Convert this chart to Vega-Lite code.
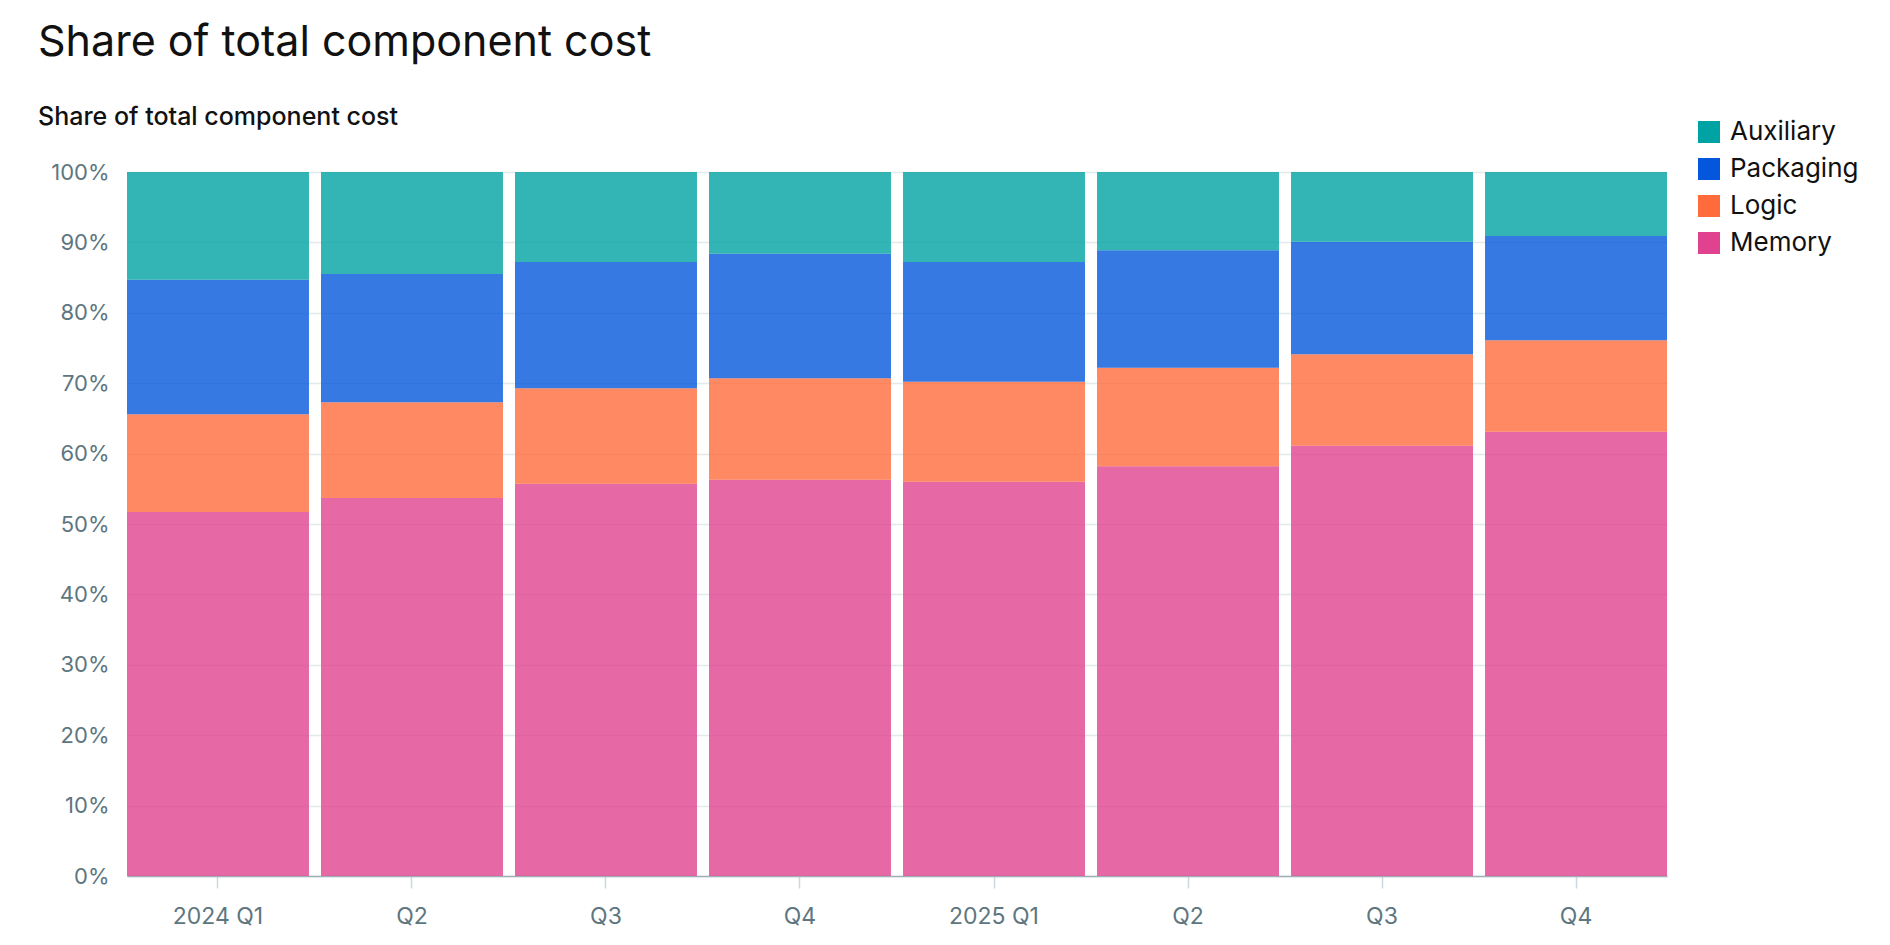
{
  "$schema": "https://vega.github.io/schema/vega-lite/v6.json",
  "width": 1540,
  "height": 704,
  "autosize": "none",
  "padding": {"left": 127, "top": 172, "right": 223, "bottom": 69},
  "background": "white",
  "title": {
    "text": "Share of total component cost",
    "subtitle": "Share of total component cost",
    "anchor": "start",
    "frame": "group",
    "dx": -89,
    "offset": -11,
    "font": "Inter",
    "fontSize": 43,
    "fontWeight": 400,
    "color": "#111111",
    "subtitleFont": "Inter",
    "subtitleFontSize": 25,
    "subtitleFontWeight": 500,
    "subtitleColor": "#111111",
    "subtitlePadding": 40
  },
  "data": {
    "values": [
      {"quarter": "2024 Q1", "component": "Memory", "share": 0.517},
      {"quarter": "2024 Q1", "component": "Logic", "share": 0.139},
      {"quarter": "2024 Q1", "component": "Packaging", "share": 0.191},
      {"quarter": "2024 Q1", "component": "Auxiliary", "share": 0.153},
      {"quarter": "2024 Q2", "component": "Memory", "share": 0.537},
      {"quarter": "2024 Q2", "component": "Logic", "share": 0.136},
      {"quarter": "2024 Q2", "component": "Packaging", "share": 0.182},
      {"quarter": "2024 Q2", "component": "Auxiliary", "share": 0.145},
      {"quarter": "2024 Q3", "component": "Memory", "share": 0.557},
      {"quarter": "2024 Q3", "component": "Logic", "share": 0.136},
      {"quarter": "2024 Q3", "component": "Packaging", "share": 0.179},
      {"quarter": "2024 Q3", "component": "Auxiliary", "share": 0.128},
      {"quarter": "2024 Q4", "component": "Memory", "share": 0.563},
      {"quarter": "2024 Q4", "component": "Logic", "share": 0.144},
      {"quarter": "2024 Q4", "component": "Packaging", "share": 0.177},
      {"quarter": "2024 Q4", "component": "Auxiliary", "share": 0.116},
      {"quarter": "2025 Q1", "component": "Memory", "share": 0.560},
      {"quarter": "2025 Q1", "component": "Logic", "share": 0.142},
      {"quarter": "2025 Q1", "component": "Packaging", "share": 0.170},
      {"quarter": "2025 Q1", "component": "Auxiliary", "share": 0.128},
      {"quarter": "2025 Q2", "component": "Memory", "share": 0.582},
      {"quarter": "2025 Q2", "component": "Logic", "share": 0.140},
      {"quarter": "2025 Q2", "component": "Packaging", "share": 0.167},
      {"quarter": "2025 Q2", "component": "Auxiliary", "share": 0.111},
      {"quarter": "2025 Q3", "component": "Memory", "share": 0.611},
      {"quarter": "2025 Q3", "component": "Logic", "share": 0.130},
      {"quarter": "2025 Q3", "component": "Packaging", "share": 0.160},
      {"quarter": "2025 Q3", "component": "Auxiliary", "share": 0.099},
      {"quarter": "2025 Q4", "component": "Memory", "share": 0.631},
      {"quarter": "2025 Q4", "component": "Logic", "share": 0.130},
      {"quarter": "2025 Q4", "component": "Packaging", "share": 0.148},
      {"quarter": "2025 Q4", "component": "Auxiliary", "share": 0.091}
    ]
  },
  "transform": [
    {"calculate": "indexof(['Memory', 'Logic', 'Packaging', 'Auxiliary'], datum.component)", "as": "stackOrder"}
  ],
  "mark": {"type": "bar", "opacity": 0.8},
  "encoding": {
    "x": {
      "field": "quarter",
      "type": "ordinal",
      "sort": null,
      "scale": {"paddingInner": 0.062, "paddingOuter": 0},
      "axis": {
        "title": null,
        "labelAngle": 0,
        "labelExpr": "slice(datum.value, 5) == 'Q1' ? datum.value : slice(datum.value, 5)",
        "labelFont": "Inter",
        "labelFontSize": 23,
        "labelColor": "#5e7680",
        "labelPadding": 17,
        "domainColor": "#9fb1b7",
        "domainWidth": 1.5,
        "tickColor": "#cdd9dc",
        "tickSize": 12,
        "tickWidth": 1.5
      }
    },
    "y": {
      "field": "share",
      "type": "quantitative",
      "stack": "zero",
      "scale": {"domain": [0, 1]},
      "axis": {
        "title": null,
        "values": [0, 0.1, 0.2, 0.3, 0.4, 0.5, 0.6, 0.7, 0.8, 0.9, 1],
        "format": ".0%",
        "domain": false,
        "labelFont": "Inter",
        "labelFontSize": 22,
        "labelColor": "#5e7680",
        "labelPadding": 18,
        "ticks": false,
        "gridColor": "#e1eaec",
        "gridWidth": 1.5
      }
    },
    "order": {"field": "stackOrder", "type": "quantitative", "sort": "ascending"},
    "color": {
      "field": "component",
      "type": "nominal",
      "scale": {
        "domain": ["Auxiliary", "Packaging", "Logic", "Memory"],
        "range": ["#00a3a3", "#0457dc", "#ff6b3b", "#e0428f"]
      },
      "legend": {
        "title": null,
        "orient": "none",
        "legendX": 1569,
        "legendY": -53,
        "symbolType": "square",
        "symbolSize": 484,
        "symbolOpacity": 1,
        "symbolStrokeWidth": 0,
        "labelFont": "Inter",
        "labelFontSize": 26,
        "labelColor": "#111111",
        "labelOffset": 8,
        "labelLimit": 300,
        "rowPadding": 11
      }
    }
  },
  "config": {
    "view": {"stroke": null}
  }
}
